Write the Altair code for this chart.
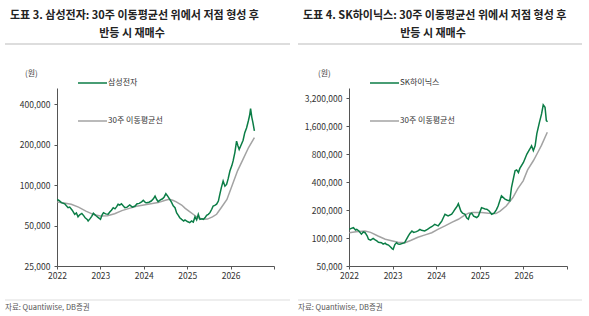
import altair as alt
import pandas as pd

FONT = "Noto Sans CJK KR"
GREEN = "#0b7d46"
GRAY = "#a3a3a3"

# ---------------- Samsung Electronics (weekly close, sampled) ----------------
ss_dates = [
    "2022-01-03", "2022-01-20", "2022-02-07", "2022-03-07", "2022-03-21", "2022-04-04",
    "2022-04-18", "2022-05-09", "2022-05-30", "2022-06-13", "2022-06-27", "2022-07-11",
    "2022-07-29", "2022-08-15", "2022-08-26", "2022-09-12", "2022-09-20", "2022-10-05",
    "2022-10-20", "2022-11-03", "2022-11-17", "2022-11-28", "2022-12-12", "2023-01-02",
    "2023-01-16", "2023-01-27", "2023-02-14", "2023-03-07", "2023-03-21", "2023-04-04",
    "2023-04-19", "2023-05-04", "2023-05-18", "2023-05-30", "2023-06-13", "2023-06-27",
    "2023-07-12", "2023-07-26", "2023-08-14", "2023-09-05", "2023-09-27", "2023-10-20",
    "2023-11-06", "2023-11-24", "2023-12-14", "2023-12-28", "2024-01-15", "2024-01-26",
    "2024-02-14", "2024-03-04", "2024-03-22", "2024-04-05", "2024-04-19", "2024-05-01",
    "2024-05-20", "2024-06-07", "2024-06-21", "2024-07-05", "2024-07-19", "2024-08-07",
    "2024-08-21", "2024-09-05", "2024-09-20", "2024-10-04", "2024-10-18", "2024-10-30",
    "2024-11-15", "2024-12-02", "2024-12-13", "2025-01-02", "2025-01-22", "2025-02-07",
    "2025-02-21", "2025-03-07", "2025-03-21", "2025-04-04", "2025-04-18", "2025-05-05",
    "2025-05-16", "2025-05-30", "2025-06-13", "2025-06-27", "2025-07-11", "2025-07-26",
    "2025-08-07", "2025-08-21", "2025-09-05", "2025-09-20", "2025-10-03", "2025-10-15",
    "2025-10-30", "2025-11-14", "2025-11-28", "2025-12-12", "2025-12-26", "2026-01-12",
    "2026-01-22", "2026-02-06", "2026-02-20", "2026-03-04", "2026-03-14", "2026-04-01",
    "2026-04-16", "2026-04-30", "2026-05-15", "2026-05-30", "2026-06-10", "2026-06-18",
    "2026-06-28", "2026-07-08", "2026-07-20",
]
ss_close = [
    78000, 76500, 74000, 72500, 70000, 67800,
    68500, 65000, 60600, 62000, 58000, 60000,
    61500, 59000, 57000, 55500, 54000, 56000,
    58500, 61600, 60000, 58800, 57500, 55600,
    60000, 62300, 61000, 60600, 63000, 65000,
    67800, 66500, 69000, 71900, 71000, 72600,
    70000, 67800, 68500, 71000, 68500, 69800,
    72500, 73000, 75000, 76900, 74000, 73900,
    74500, 76000, 79000, 82800, 78000, 75200,
    77500, 79000, 81500, 86200, 83000, 78300,
    74500, 70000, 67800, 62000, 59500, 57100,
    55500, 54000, 55000, 53500, 52500, 54000,
    53000, 57900, 55000, 60600, 55500, 56000,
    55600, 57000, 59500, 60500, 62300, 66000,
    69800, 70500, 72000, 76000, 86000, 95600,
    107000, 98000, 101000, 112000, 127000, 140000,
    151000, 175000, 212000, 195000, 184000, 200000,
    215000, 245000, 265000, 299000, 330000, 370000,
    320000, 290000, 252000,
]
ss_ma_dates = [
    "2022-01-03", "2022-03-01", "2022-05-01", "2022-07-01", "2022-09-01", "2022-11-01",
    "2023-01-01", "2023-03-01", "2023-05-01", "2023-07-01", "2023-09-01", "2023-11-01",
    "2024-01-01", "2024-03-01", "2024-05-01", "2024-07-01", "2024-08-01", "2024-09-01",
    "2024-10-01", "2024-11-15", "2024-12-15", "2025-01-15", "2025-02-20", "2025-04-01",
    "2025-05-15", "2025-06-20", "2025-08-01", "2025-09-05", "2025-10-15", "2025-12-01",
    "2026-01-15", "2026-03-01", "2026-04-15", "2026-06-01", "2026-07-20",
]
ss_ma = [
    74700, 73500, 72000, 68500, 64000, 60500,
    58800, 59000, 61200, 64500, 67000, 69500,
    71000, 72500, 74000, 77000, 78300, 77000,
    75000, 71000, 67000, 64000, 60600, 57000,
    55600, 55800, 58000, 60600, 68000, 78000,
    100000, 128000, 155000, 190000, 225000,
]

# ---------------- SK hynix ----------------
hx_dates = [
    "2022-01-03", "2022-01-20", "2022-02-07", "2022-02-25", "2022-03-07", "2022-03-25",
    "2022-04-15", "2022-05-01", "2022-05-16", "2022-06-03", "2022-06-13", "2022-07-01",
    "2022-07-22", "2022-08-05", "2022-08-22", "2022-09-05", "2022-09-30", "2022-10-14",
    "2022-10-31", "2022-11-10", "2022-11-28", "2022-12-15", "2022-12-28", "2023-01-06",
    "2023-01-20", "2023-02-03", "2023-02-17", "2023-03-03", "2023-03-20", "2023-04-12",
    "2023-04-28", "2023-05-12", "2023-05-26", "2023-06-12", "2023-06-26", "2023-07-20",
    "2023-08-05", "2023-08-18", "2023-09-01", "2023-09-27", "2023-10-20", "2023-11-10",
    "2023-11-28", "2023-12-20", "2024-01-18", "2024-02-05", "2024-02-17", "2024-03-01",
    "2024-03-15", "2024-04-10", "2024-05-10", "2024-05-25", "2024-06-07", "2024-06-25",
    "2024-07-05", "2024-07-26", "2024-08-09", "2024-08-30", "2024-09-12", "2024-09-27",
    "2024-10-10", "2024-10-25", "2024-11-10", "2024-12-06", "2024-12-20", "2025-01-15",
    "2025-02-14", "2025-02-28", "2025-03-20", "2025-04-10", "2025-05-01", "2025-05-20",
    "2025-06-03", "2025-07-01", "2025-07-31", "2025-08-20", "2025-09-09", "2025-09-23",
    "2025-10-23", "2025-11-05", "2025-11-20", "2025-12-02", "2026-01-01", "2026-01-30",
    "2026-02-24", "2026-03-10", "2026-03-25", "2026-04-09", "2026-04-23", "2026-05-15",
    "2026-06-02", "2026-06-16", "2026-07-01", "2026-07-12", "2026-07-22",
]
hx_close = [
    124000, 127000, 129000, 122000, 124000, 119000,
    110000, 116000, 114000, 105000, 97000, 95000,
    99000, 96000, 93000, 90000, 89000, 86000,
    88000, 85500, 84000, 80000, 77000, 75500,
    85000, 89000, 86000, 85500, 87000, 89000,
    97000, 105000, 112000, 119000, 115000, 117000,
    120000, 124000, 121000, 119000, 124000, 129000,
    133000, 140000, 135000, 145000, 152000, 165000,
    180000, 173000, 180000, 192000, 204000, 220000,
    234000, 195000, 185000, 180000, 165000, 159000,
    180000, 185000, 172000, 166000, 172000, 212000,
    205000, 204000, 195000, 180000, 185000, 202000,
    221000, 284000, 262000, 255000, 251000, 349000,
    529000, 540000, 506000, 560000, 649000, 800000,
    906000, 980000, 870000, 980000, 1320000, 1750000,
    2160000, 2700000, 2550000, 1830000, 1780000,
]
hx_ma_dates = [
    "2022-01-03", "2022-03-01", "2022-05-15", "2022-07-01", "2022-09-01", "2022-11-01",
    "2023-01-01", "2023-02-15", "2023-04-15", "2023-06-01", "2023-08-01", "2023-10-01",
    "2023-11-25", "2024-01-15", "2024-03-15", "2024-05-15", "2024-07-05", "2024-08-15",
    "2024-09-27", "2024-11-01", "2025-01-15", "2025-03-15", "2025-05-15", "2025-06-20",
    "2025-08-10", "2025-10-05", "2025-11-15", "2025-12-30", "2026-02-05", "2026-03-25",
    "2026-05-01", "2026-06-01", "2026-07-20",
]
hx_ma = [
    114000, 117000, 119000, 115000, 105000, 97000,
    93000, 90000, 89000, 94000, 102000, 108000,
    114000, 124000, 135000, 148000, 159000, 172000,
    185000, 188000, 188000, 185000, 183000, 195000,
    221000, 272000, 340000, 412000, 540000, 677000,
    830000, 990000, 1370000,
]

ss_ticks = [25000, 50000, 100000, 200000, 400000]
hx_ticks = [50000, 100000, 200000, 400000, 800000, 1600000, 3200000]
year_ticks = [2022, 2023, 2024, 2025, 2026, 2027]


def one_row():
    return pd.DataFrame({"k": [0]})


def text_layer(txt, x, y, size, color="#333333", weight="normal", align="left"):
    return alt.Chart(one_row()).mark_text(
        text=txt, font=FONT, fontSize=size, fontWeight=weight, color=color,
        align=align, baseline="middle",
    ).encode(x=alt.value(x), y=alt.value(y))


def rule_layer(x1, x2, y, color, width):
    return alt.Chart(one_row()).mark_rule(color=color, strokeWidth=width).encode(
        x=alt.value(x1), x2=alt.value(x2), y=alt.value(y)
    )


def panel(dates, close, ma_dates, ma, name, ticks, ydom, W, H,
          title1, title2, frame_l, frame_r, title_x, sep_l, sep_r):
    xscale = alt.Scale(domain=[alt.DateTime(year=2022, month=1, date=1),
                               alt.DateTime(year=2027, month=1, date=1)])
    xaxis = alt.Axis(
        values=[alt.DateTime(year=y, month=1, date=1) for y in year_ticks],
        labelExpr="year(datum.value) >= 2027 ? '' : timeFormat(datum.value, '%Y')",
        title=None, grid=False, tickSize=3, labelPadding=2,
        labelFont=FONT, labelFontSize=8.5, labelColor="#333333",
        domainColor="#555555", tickColor="#555555", labelFlush=False,
    )
    yscale = alt.Scale(type="log", domain=ydom, nice=False)
    yaxis = alt.Axis(
        values=ticks, format=",", title=None, grid=False, tickSize=3, labelPadding=4,
        labelFont=FONT, labelFontSize=8.5, labelColor="#333333",
        domainColor="#555555", tickColor="#555555",
    )
    df_c = pd.DataFrame({"date": pd.to_datetime(dates), "value": close})
    df_m = pd.DataFrame({"date": pd.to_datetime(ma_dates), "value": ma})

    frame = alt.Chart(one_row()).mark_rect(fill="white", fillOpacity=0).encode(
        x=alt.value(frame_l), x2=alt.value(frame_r),
        y=alt.value(-88), y2=alt.value(228),
    )
    ma_line = alt.Chart(df_m).mark_line(color=GRAY, strokeWidth=1.5).encode(
        x=alt.X("date:T", scale=xscale, axis=xaxis),
        y=alt.Y("value:Q", scale=yscale, axis=yaxis),
    )
    px_line = alt.Chart(df_c).mark_line(color=GREEN, strokeWidth=1.5).encode(
        x=alt.X("date:T", scale=xscale, axis=xaxis),
        y=alt.Y("value:Q", scale=yscale, axis=yaxis),
    )
    layers = [
        frame, ma_line, px_line,
        text_layer(title1, title_x, -72, 11, "#222222", "bold"),
        text_layer(title2, 75 if frame_l < -55 else 84, -54, 11, "#222222", "bold", "center"),
        rule_layer(sep_l, sep_r, -44, "#bbbbbb", 1),
        text_layer("(원)", -32 if frame_l < -55 else -31, -14, 8, "#444444"),
        rule_layer(21, 50, -5, GREEN, 1.5),
        text_layer(name, 51, -5, 8, "#333333"),
        rule_layer(21, 50, 33, GRAY, 1.5),
        text_layer("30주 이동평균선", 51, 33, 8, "#333333"),
        rule_layer(sep_l, sep_r, 212, "#dddddd", 1),
        text_layer("자료: Quantiwise, DB증권", sep_l, 220, 7.5, "#555555"),
    ]
    return alt.layer(*layers).properties(width=W, height=H)


left = panel(ss_dates, ss_close, ss_ma_dates, ss_ma, "삼성전자", ss_ticks,
             [25000, 526000], 217, 178,
             "도표 3. 삼성전자: 30주 이동평균선 위에서 저점 형성 후", "반등 시 재매수",
             -57, 233, -47, -52, 233)
right = panel(hx_dates, hx_close, hx_ma_dates, hx_ma, "SK하이닉스", hx_ticks,
              [50000, 4100000], 218, 178,
              "도표 4. SK하이닉스: 30주 이동평균선 위에서 저점 형성 후", "반등 시 재매수",
              -54, 240, -46, -51, 233)

chart = alt.hconcat(left, right, spacing=75, bounds="flush").properties(
    padding=0, background="white"
).configure_view(stroke=None)

chart.save("out.html", embed_options={"renderer": "svg", "actions": False})
